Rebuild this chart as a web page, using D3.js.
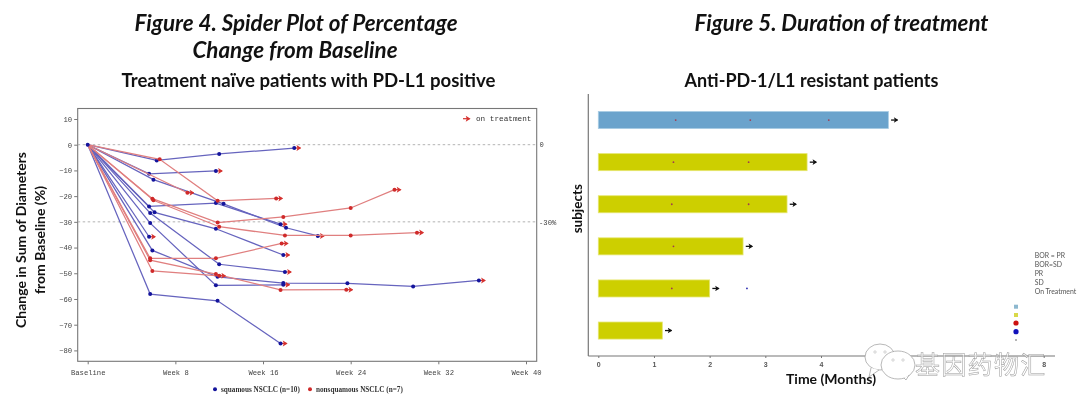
<!DOCTYPE html>
<html>
<head>
<meta charset="utf-8">
<script src="https://cdn.jsdelivr.net/npm/d3@7"></script>
<style>
  html, body { margin: 0; padding: 0; background: #fff; }
  svg { display: block; filter: blur(0.3px); }
  .head { font-family: Lato, sans-serif; font-weight: 700; fill: #111; text-anchor: middle; }
  .tick-left { font-family: "Liberation Mono", monospace; font-size: 7.2px; fill: #444; }
</style>
</head>
<body>
<script>
// Figure 4: one entry per patient
var weekLabels = ["Baseline", "Week 8", "Week 16", "Week 24", "Week 32", "Week 40"];
var weekTicks = [0, 8, 16, 24, 32, 40];
var changeTicks = [10, 0, -10, -20, -30, -40, -50, -60, -70, -80];

var squamousWeeks = [
  [0, 6.3, 12, 18.85],
  [0, 5.6, 11.7],
  [0, 6, 12.4, 18.1, 21],
  [0, 5.6, 11.7, 17.6],
  [0, 5.7, 12, 18],
  [0, 6.1, 11.7, 17.85],
  [0, 5.7, 11.7, 17.85],
  [0, 5.6],
  [0, 5.9, 11.85, 17.85, 23.7, 29.7, 35.7],
  [0, 5.7, 11.85, 17.6]
];
var squamousValues = [
  [0, -6.1, -3.6, -1.3],
  [0, -11.3, -10.2],
  [0, -13.6, -23, -32.3, -35.5],
  [0, -24, -22.7, -30.9],
  [0, -26.6, -46.5, -49.5],
  [0, -26.3, -32.7, -42.9],
  [0, -30.5, -54.7, -54.5],
  [0, -35.8],
  [0, -41.1, -51.4, -53.8, -53.9, -55.1, -52.8],
  [0, -58.1, -60.7, -77.3]
];
var nonsquamousWeeks = [
  [0, 6.57, 11.86, 17.2],
  [0, 9.1],
  [0, 5.9, 11.86, 17.85, 24, 28],
  [0, 6, 12, 18, 24, 30.05],
  [0, 5.7, 11.7, 17.7],
  [0, 5.7, 11.7, 17.6, 23.6],
  [0, 5.9, 12]
];
var nonsquamousValues = [
  [0, -5.7, -21.8, -20.9],
  [0, -18.7],
  [0, -21, -30.3, -28.1, -24.6, -17.5],
  [0, -21.6, -31.9, -35.3, -35.3, -34.2],
  [0, -44.2, -44.2, -38.4],
  [0, -44.9, -50.3, -56.5, -56.4],
  [0, -49.1, -51]
];

// Figure 5
var subjects = ["s1", "s2", "s3", "s4", "s5", "s6"];
var durations = [5.21, 3.75, 3.39, 2.6, 2.0, 1.15];
var bestResponse = ["PR", "SD", "SD", "SD", "SD", "SD"];
var prVisits = [[1.39, 2.73, 4.14], [1.35, 2.7], [1.32, 2.7], [1.35], [1.32], []];
var sdVisits = [[], [], [], [], [2.67], []];
// 5, 6 and 7 are hidden under the watermark in the source
var monthTicks = [0, 1, 2, 3, 4, 8];
var legendLabels = ["BOR = PR", "BOR=SD", "PR", "SD", "On Treatment"];

var svg = d3.select("body").append("svg").attr("width", 1080).attr("height", 411);

// arrow heads
function addMarker(id, color, size) {
  svg.append("defs").append("marker")
      .attr("id", id)
      .attr("viewBox", "0 0 6 6")
      .attr("refX", 5).attr("refY", 3)
      .attr("markerUnits", "userSpaceOnUse")
      .attr("markerWidth", size).attr("markerHeight", size)
      .attr("orient", "auto")
    .append("path")
      .attr("d", "M1.5,0.2 L6,3 L1.5,5.8 L2.5,3 Z")
      .attr("fill", color);
}
addMarker("redArrow", "#d5322f", 6.5);
addMarker("blackArrow", "#111", 6);

// titles
function title(text, x, y, size, italic) {
  svg.append("text").attr("class", "head")
      .attr("x", x).attr("y", y)
      .style("font-size", size + "px")
      .style("font-style", italic ? "italic" : "normal")
      .text(text);
}
title("Figure 4. Spider Plot of Percentage", 296, 31, 22.4, true);
title("Change from Baseline", 295, 58, 22.4, true);
title("Treatment naïve patients with PD-L1 positive", 308.5, 87, 18.6, false);
title("Figure 5. Duration of treatment", 841.5, 31, 22.3, true);
title("Anti-PD-1/L1 resistant patients", 811.5, 87, 18, false);

// ---- spider plot ----
var x = d3.scaleLinear().domain([0, 40]).range([87.7, 526]);
var y = d3.scaleLinear().domain([0, -80]).range([144.7, 350.4]);
var spider = svg.append("g");

spider.append("rect")
    .attr("x", 77.7).attr("y", 108.5)
    .attr("width", 459).attr("height", 252.8)
    .attr("fill", "none").attr("stroke", "#777").attr("stroke-width", 1.1);

spider.selectAll(".ref").data([0, -30]).enter().append("line")
    .attr("x1", 77.7).attr("x2", 536.7)
    .attr("y1", function(d) { return y(d); })
    .attr("y2", function(d) { return y(d); })
    .attr("stroke", "#aaa").attr("stroke-width", 0.9)
    .attr("stroke-dasharray", "2.5,2.5");

var yAxis = spider.append("g")
    .attr("transform", "translate(77.7,0)")
    .call(d3.axisLeft(y).tickValues(changeTicks).tickSize(3.5).tickPadding(2));
var xAxis = spider.append("g")
    .attr("transform", "translate(0,361.3)")
    .call(d3.axisBottom(x).tickValues(weekTicks).tickSize(3).tickPadding(6)
      .tickFormat(function(d, i) { return weekLabels[i]; }));
[yAxis, xAxis].forEach(function(a) {
  a.select(".domain").remove();
  a.selectAll("line").attr("stroke", "#777");
  a.selectAll("text").attr("class", "tick-left");
});

spider.append("text").attr("class", "tick-left").attr("x", 539.5).attr("y", 147).text("0");
spider.append("text").attr("class", "tick-left").attr("x", 539).attr("y", 225).text("-30%");

var line = d3.line()
    .x(function(d) { return x(d[0]); })
    .y(function(d) { return y(d[1]); });

function drawGroup(weeks, values, lineColor, dotColor) {
  var rows = weeks.map(function(w, i) { return d3.zip(w, values[i]); });
  var g = spider.append("g");
  g.selectAll("path").data(rows).enter().append("path")
      .attr("d", line)
      .attr("fill", "none")
      .attr("stroke", lineColor)
      .attr("stroke-width", 1.25);
  // on treatment arrow after the last visit
  g.selectAll(".arrow").data(rows).enter().append("line")
      .attr("class", "arrow")
      .attr("x1", function(d) { return x(d[d.length - 1][0]); })
      .attr("y1", function(d) { return y(d[d.length - 1][1]); })
      .attr("x2", function(d) { return x(d[d.length - 1][0]) + 6; })
      .attr("y2", function(d) { return y(d[d.length - 1][1]); })
      .attr("stroke", "#d5322f")
      .attr("stroke-width", 1.2)
      .attr("marker-end", "url(#redArrow)");
  g.selectAll("circle").data(d3.merge(rows.map(function(r) { return r.slice(1); })))
    .enter().append("circle")
      .attr("cx", function(d) { return x(d[0]); })
      .attr("cy", function(d) { return y(d[1]); })
      .attr("r", 2)
      .attr("fill", dotColor);
}
drawGroup(squamousWeeks, squamousValues, "#6664be", "#14149c");
drawGroup(nonsquamousWeeks, nonsquamousValues, "#e07f7f", "#cf2a2a");
spider.append("circle").attr("cx", x(0)).attr("cy", y(0)).attr("r", 2).attr("fill", "#14149c");

spider.append("line")
    .attr("x1", 463).attr("x2", 469.5).attr("y1", 118.7).attr("y2", 118.7)
    .attr("stroke", "#d5322f").attr("stroke-width", 1.2)
    .attr("marker-end", "url(#redArrow)");
spider.append("text")
    .attr("x", 476).attr("y", 121)
    .style("font-family", "'Liberation Mono', monospace")
    .style("font-size", "7.7px")
    .style("fill", "#333")
    .text("on treatment");

[["squamous NSCLC (n=10)", 215, "#14149c"], ["nonsquamous NSCLC (n=7)", 310, "#cf2a2a"]].forEach(function(l) {
  spider.append("circle").attr("cx", l[1]).attr("cy", 389.3).attr("r", 2).attr("fill", l[2]);
  spider.append("text")
      .attr("x", l[1] + 6).attr("y", 391.5)
      .style("font-family", "'Liberation Serif', serif")
      .style("font-weight", 700)
      .style("font-size", "7.2px")
      .style("fill", "#333")
      .text(l[0]);
});

spider.append("text").attr("class", "head")
    .attr("transform", "translate(26,240) rotate(-90)")
    .style("font-size", "14px").text("Change in Sum of Diameters");
spider.append("text").attr("class", "head")
    .attr("transform", "translate(45,240) rotate(-90)")
    .style("font-size", "14px").text("from Baseline (%)");

// ---- duration bars ----
var t = d3.scaleLinear().domain([0, 8]).range([598.3, 1043.7]);
var band = d3.scaleBand().domain(subjects).range([99, 351.6]).paddingInner(0.595).paddingOuter(0.2975);
var colorOf = { PR: "#6ba3cc", SD: "#cdcf00" };
var edgeOf = { PR: "#a9cde4", SD: "#e6e770" };
var bars = svg.append("g");

bars.append("line").attr("x1", 588.3).attr("x2", 588.3).attr("y1", 94).attr("y2", 356)
    .attr("stroke", "#777").attr("stroke-width", 1.2);
var tAxis = bars.append("g")
    .attr("transform", "translate(0,356)")
    .call(d3.axisBottom(t).tickValues(monthTicks).tickSize(2).tickPadding(4).tickFormat(d3.format("d")));
tAxis.select(".domain").remove();
tAxis.selectAll("line").attr("stroke", "#777");
tAxis.selectAll("text")
    .style("font-family", "'Liberation Sans', sans-serif")
    .style("font-weight", 700)
    .style("font-size", "7px")
    .style("fill", "#555");
bars.append("line").attr("x1", 588.3).attr("x2", 1055).attr("y1", 356).attr("y2", 356)
    .attr("stroke", "#777").attr("stroke-width", 1.2);

bars.selectAll("rect").data(subjects).enter().append("rect")
    .attr("x", t(0))
    .attr("y", function(d) { return band(d); })
    .attr("width", function(d, i) { return t(durations[i]) - t(0); })
    .attr("height", band.bandwidth())
    .attr("fill", function(d, i) { return colorOf[bestResponse[i]]; })
    .attr("stroke", function(d, i) { return edgeOf[bestResponse[i]]; })
    .attr("stroke-width", 0.8);

bars.selectAll(".go").data(subjects).enter().append("line")
    .attr("class", "go")
    .attr("x1", function(d, i) { return t(durations[i]) + 2.7; })
    .attr("x2", function(d, i) { return t(durations[i]) + 9; })
    .attr("y1", function(d) { return band(d) + band.bandwidth() / 2; })
    .attr("y2", function(d) { return band(d) + band.bandwidth() / 2; })
    .attr("stroke", "#111").attr("stroke-width", 1.3)
    .attr("marker-end", "url(#blackArrow)");

function drawVisits(visits, color) {
  visits.forEach(function(list, i) {
    bars.selectAll(null).data(list).enter().append("circle")
        .attr("cx", function(d) { return t(d); })
        .attr("cy", band(subjects[i]) + band.bandwidth() / 2)
        .attr("r", 0.9)
        .attr("fill", color);
  });
}
drawVisits(prVisits, "#a03a50");
drawVisits(sdVisits, "#2a2ab0");

bars.append("text").attr("class", "head")
    .attr("transform", "translate(582,208.7) rotate(-90)")
    .style("font-size", "13.5px").text("subjects");
bars.append("text").attr("class", "head")
    .attr("x", 831).attr("y", 384)
    .style("font-size", "14px").text("Time (Months)");

// legend: labels and keys sit apart in the source
bars.selectAll(".lab").data(legendLabels).enter().append("text")
    .attr("class", "lab")
    .attr("x", 1034.7)
    .attr("y", function(d, i) { return 258.4 + i * 9; })
    .style("font-family", "Lato, sans-serif")
    .style("font-size", "6.9px")
    .style("fill", "#555")
    .text(function(d) { return d; });
var key = bars.append("g");
key.append("rect").attr("x", 1014).attr("y", 304.7).attr("width", 4).attr("height", 4).attr("fill", "#8db8cf");
key.append("rect").attr("x", 1014).attr("y", 313).attr("width", 4).attr("height", 4).attr("fill", "#d9d94a");
key.append("circle").attr("cx", 1016).attr("cy", 323).attr("r", 2.6).attr("fill", "#cc1111");
key.append("circle").attr("cx", 1016).attr("cy", 331.7).attr("r", 2.6).attr("fill", "#1111bb");
key.append("circle").attr("cx", 1016).attr("cy", 340).attr("r", 0.7).attr("fill", "#333");

// watermark: two chat bubbles and the account name
var mark = svg.append("g");
[[880, 357, 15, 13, "M871,368 L869,377 L879,370"], [898, 365, 17, 14, "M904,378 L906,380 L909,375"]].forEach(function(b) {
  mark.append("ellipse").attr("cx", b[0]).attr("cy", b[1]).attr("rx", b[2]).attr("ry", b[3])
      .attr("fill", "#fff")
      .attr("stroke", "#999").attr("stroke-width", 0.7);
  mark.append("path").attr("d", b[4])
      .attr("fill", "#fff")
      .attr("stroke", "#999").attr("stroke-width", 0.7);
  [-5, 5].forEach(function(dx) {
    mark.append("circle").attr("cx", b[0] + dx).attr("cy", b[1] - 5).attr("r", 1.2)
        .attr("fill", "none").attr("stroke", "#aaa").attr("stroke-width", 0.5);
  });
});
mark.append("text")
    .attr("x", 915).attr("y", 374)
    .style("font-family", "'Noto Sans CJK SC', sans-serif")
    .style("font-size", "25px")
    .style("letter-spacing", "1.3px")
    .attr("fill", "#fff")
    .attr("fill-opacity", 0.6)
    .attr("stroke", "#999")
    .attr("stroke-width", 0.5)
    .text("基因药物汇");
</script>
</body>
</html>
